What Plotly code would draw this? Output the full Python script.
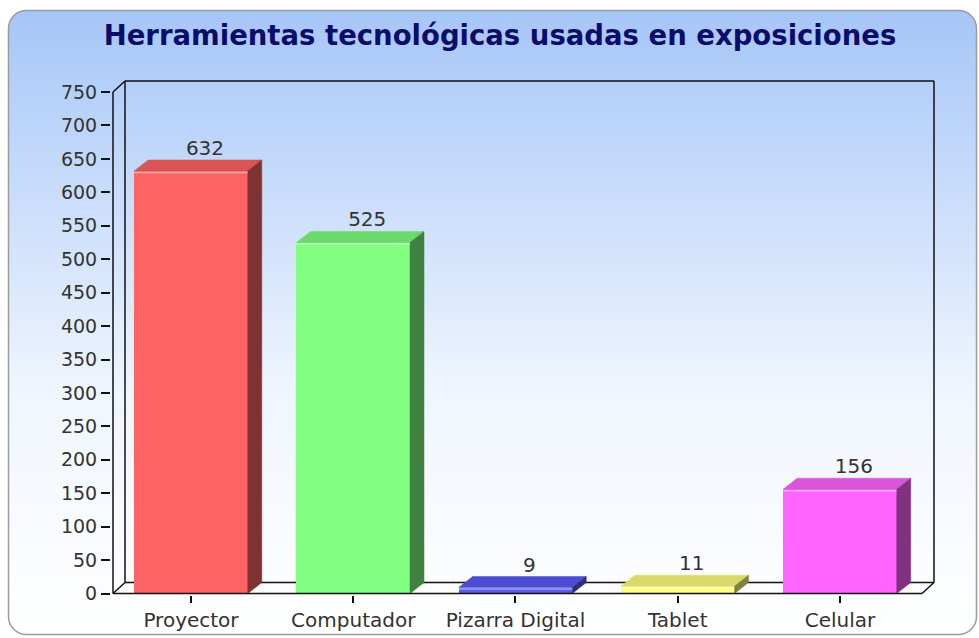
import base64
import plotly.graph_objects as go

# ---- data ----
categories = ["Proyector", "Computador", "Pizarra Digital", "Tablet", "Celular"]
values = [632, 525, 9, 11, 156]
front_colors = ["#ff6464", "#80ff80", "#5a5af2", "#ffff80", "#ff64ff"]
top_colors = ["#d95555", "#6cd96c", "#4c4cd4", "#d9d96c", "#d955d9"]
side_colors = ["#7f3232", "#408040", "#2d2d78", "#80803f", "#803280"]
y_ticks = list(range(0, 751, 50))
title_text = "Herramientas tecnológicas usadas en exposiciones"

# ---- geometry (pixel layout of plot area) ----
W, H = 979, 638
L, R, T, B = 111, 936, 80, 595
YMIN, YMAX = -2.2, 768.0
XMIN, XMAX = -0.493, 4.592
px_x = (R - L) / (XMAX - XMIN)
px_y = (B - T) / (YMAX - YMIN)

bar_w = 0.70
bar_dx = 14 / px_x
bar_dy = 11 / px_y
wall_dx = 12 / px_x
wall_dy = 11 / px_y
x_front_l = XMIN + 2 / px_x
x_front_r = XMAX - 14 / px_x
top_val = y_ticks[-1]

fig = go.Figure()

# front faces
fig.add_trace(go.Bar(
    x=list(range(len(categories))), y=values, width=bar_w,
    marker=dict(color=front_colors, line=dict(width=0)),
    hoverinfo="skip", showlegend=False,
))

# top and side faces
for i, v in enumerate(values):
    xl, xr = i - bar_w / 2, i + bar_w / 2
    fig.add_trace(go.Scatter(
        x=[xl, xr, xr + bar_dx, xl + bar_dx, xl],
        y=[v, v, v + bar_dy, v + bar_dy, v],
        fill="toself", fillcolor=top_colors[i], mode="lines",
        line=dict(color=top_colors[i], width=0.5),
        hoverinfo="skip", showlegend=False,
    ))
    fig.add_trace(go.Scatter(
        x=[xr, xr + bar_dx, xr + bar_dx, xr, xr],
        y=[0, bar_dy, v + bar_dy, v, 0],
        fill="toself", fillcolor=side_colors[i], mode="lines",
        line=dict(color=side_colors[i], width=0.5),
        hoverinfo="skip", showlegend=False,
    ))
    # highlight line along top of front face
    fig.add_trace(go.Scatter(
        x=[xl, xr], y=[v - 1.5 / px_y, v - 1.5 / px_y], mode="lines",
        line=dict(color="rgba(255,255,255,0.45)", width=1.5),
        hoverinfo="skip", showlegend=False,
    ))

# value labels
fig.add_trace(go.Scatter(
    x=[i + bar_dx for i in range(len(values))],
    y=[v + bar_dy for v in values],
    text=[str(v) for v in values], mode="text", textposition="top center",
    textfont=dict(family="DejaVu Sans", size=20, color="#333333"),
    hoverinfo="skip", showlegend=False, cliponaxis=False,
))

# walls / floor lines
line_style = dict(color="#111111", width=1.5)
shapes = []
xbl = x_front_l + wall_dx
xbr = x_front_r + wall_dx
back = [
    (xbl, wall_dy, xbl, top_val + wall_dy),
    (xbl, top_val + wall_dy, xbr, top_val + wall_dy),
    (xbr, top_val + wall_dy, xbr, wall_dy),
    (xbl, wall_dy, xbr, wall_dy),
    (x_front_l, top_val, xbl, top_val + wall_dy),
]
for x0, y0, x1, y1 in back:
    shapes.append(dict(type="line", xref="x", yref="y", x0=x0, y0=y0, x1=x1, y1=y1,
                       line=line_style, layer="below"))
front = [
    (x_front_l, 0, x_front_l, top_val),
    (x_front_l, 0, x_front_r, 0),
    (x_front_l, 0, xbl, wall_dy),
    (x_front_r, 0, xbr, wall_dy),
]
for x0, y0, x1, y1 in front:
    shapes.append(dict(type="line", xref="x", yref="y", x0=x0, y0=y0, x1=x1, y1=y1,
                       line=line_style, layer="above"))

# background: rounded rect with vertical gradient
svg = f'''<svg xmlns="http://www.w3.org/2000/svg" width="{W}" height="{H}" viewBox="0 0 {W} {H}">
<defs><linearGradient id="g" x1="0" y1="0" x2="0" y2="1">
<stop offset="0" stop-color="#a6c6f8"/><stop offset="0.62" stop-color="#f0f6fe"/><stop offset="1" stop-color="#ffffff"/>
</linearGradient></defs>
<rect x="8.5" y="10.5" width="968" height="624" rx="18" ry="18" fill="url(#g)" stroke="#9c9c9c" stroke-width="1.5"/>
</svg>'''
src = "data:image/svg+xml;base64," + base64.b64encode(svg.encode()).decode()
pw, ph = R - L, B - T

fig.update_layout(
    width=W, height=H,
    margin=dict(l=L, r=W - R, t=T, b=H - B, pad=0),
    paper_bgcolor="white", plot_bgcolor="rgba(0,0,0,0)",
    images=[dict(source=src, xref="paper", yref="paper",
                 x=-L / pw, y=1 + T / ph, sizex=W / pw, sizey=H / ph,
                 xanchor="left", yanchor="top", sizing="stretch", layer="below")],
    title=dict(text=title_text, x=500 / W, xref="container", xanchor="center",
               y=1 - 35 / H, yref="container", yanchor="middle",
               font=dict(family="DejaVu Sans", size=27.5, color="#0c0c6a", weight="bold")),
    xaxis=dict(range=[XMIN, XMAX], tickvals=list(range(len(categories))),
               ticktext=categories, ticks="outside", ticklen=7, tickcolor="#111111",
               tickwidth=1.5, showgrid=False, zeroline=False, showline=False,
               tickfont=dict(family="DejaVu Sans", size=20, color="#333333"),
               fixedrange=True, automargin=False),
    yaxis=dict(range=[YMIN, YMAX], tickvals=y_ticks, ticks="outside", ticklen=9,
               tickcolor="#111111", tickwidth=1.5, showgrid=False, zeroline=False,
               showline=False,
               tickfont=dict(family="DejaVu Sans", size=19, color="#333333"),
               fixedrange=True, automargin=False),
    shapes=shapes,
    bargap=0,
)

post = (
    "document.documentElement.style.margin='0';"
    "document.documentElement.style.overflow='hidden';"
    "document.body.style.margin='0';"
    "document.body.style.overflow='hidden';"
    "document.body.style.height='638px';"
    "document.querySelectorAll('.main-svg').forEach(function(s){s.style.display='block';});"
)
fig.write_html("out.html", config={"displayModeBar": False}, post_script=post)
